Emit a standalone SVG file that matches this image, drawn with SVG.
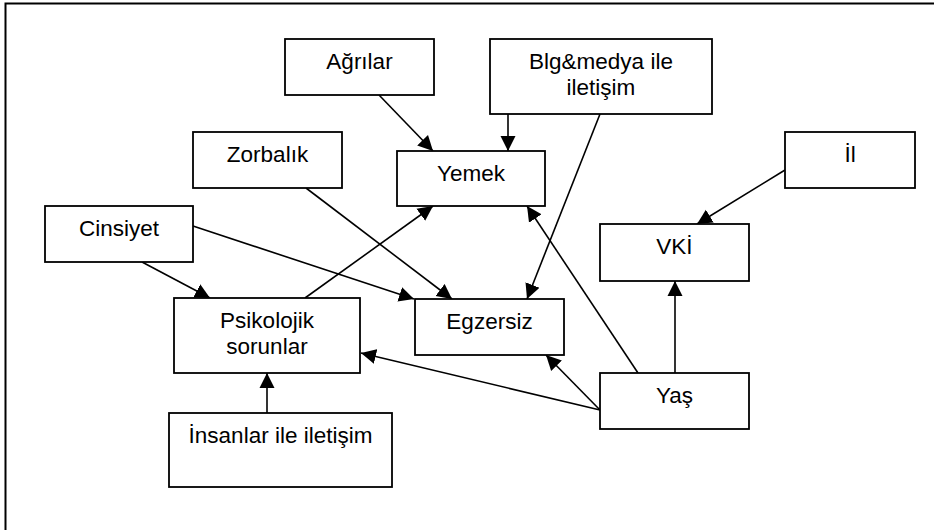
<svg xmlns="http://www.w3.org/2000/svg" width="934" height="530" viewBox="0 0 934 530">
  <style>
    .box { fill: #ffffff; stroke: #000000; stroke-width: 1.8; }
    .lbl { font-family: "Liberation Sans", Arial, sans-serif; font-size: 22.5px; fill: #000000; text-anchor: middle; }
    .edge { stroke: #000000; stroke-width: 1.6; fill: none; marker-end: url(#arrow); }
  </style>
  <defs>
    <marker id="arrow" markerUnits="userSpaceOnUse" markerWidth="16" markerHeight="16" viewBox="0 0 16 16" refX="15" refY="8" orient="auto">
      <path d="M0,0.5 L15,8 L0,15.5 Z" fill="#000000"/>
    </marker>
  </defs>
  <rect x="0" y="0" width="934" height="530" fill="#ffffff"/>
  <!-- outer frame -->
  <rect x="5.5" y="3.5" width="960" height="560" fill="none" stroke="#000000" stroke-width="2"/>

  <g id="connectors">
    <line class="edge" x1="379" y1="95" x2="433" y2="151"/>
    <line class="edge" x1="508" y1="114" x2="508" y2="151"/>
    <line class="edge" x1="600" y1="114" x2="527" y2="299"/>
    <line class="edge" x1="785" y1="170" x2="697" y2="224"/>
    <line class="edge" x1="306" y1="188" x2="452" y2="299"/>
    <line class="edge" x1="193" y1="226" x2="414" y2="299"/>
    <line class="edge" x1="142" y1="262" x2="210" y2="298"/>
    <line class="edge" x1="305" y1="298" x2="433" y2="206"/>
    <line class="edge" x1="267" y1="413" x2="267" y2="373"/>
    <line class="edge" x1="600" y1="410" x2="361" y2="353"/>
    <line class="edge" x1="600" y1="410" x2="546" y2="355"/>
    <line class="edge" x1="638" y1="373" x2="527" y2="206"/>
    <line class="edge" x1="675" y1="373" x2="675" y2="281"/>
  </g>

  <g id="agrilar">
    <rect class="box" x="285" y="39" width="149" height="56"/>
    <text class="lbl" x="359.5" y="69">Ağrılar</text>
  </g>
  <g id="blg-medya">
    <rect class="box" x="490" y="39" width="222" height="75"/>
    <text class="lbl" x="601" y="69">Blg&amp;medya ile</text>
    <text class="lbl" x="601" y="95">iletişim</text>
  </g>
  <g id="zorbalik">
    <rect class="box" x="193" y="132" width="149" height="56"/>
    <text class="lbl" x="267.5" y="162">Zorbalık</text>
  </g>
  <g id="yemek">
    <rect class="box" x="397" y="151" width="148" height="55"/>
    <text class="lbl" x="471" y="181">Yemek</text>
  </g>
  <g id="il">
    <rect class="box" x="785" y="132" width="130" height="56"/>
    <text class="lbl" x="850" y="162">İl</text>
  </g>
  <g id="cinsiyet">
    <rect class="box" x="45" y="206" width="148" height="56"/>
    <text class="lbl" x="119" y="236">Cinsiyet</text>
  </g>
  <g id="vki">
    <rect class="box" x="600" y="224" width="149" height="57"/>
    <text class="lbl" x="674.5" y="254">VKİ</text>
  </g>
  <g id="psikolojik">
    <rect class="box" x="174" y="298" width="186" height="75"/>
    <text class="lbl" x="267" y="328">Psikolojik</text>
    <text class="lbl" x="267" y="354">sorunlar</text>
  </g>
  <g id="egzersiz">
    <rect class="box" x="415" y="299" width="149" height="56"/>
    <text class="lbl" x="489.5" y="329">Egzersiz</text>
  </g>
  <g id="yas">
    <rect class="box" x="600" y="373" width="149" height="56"/>
    <text class="lbl" x="674.5" y="403">Yaş</text>
  </g>
  <g id="insanlar">
    <rect class="box" x="169" y="413" width="223" height="74"/>
    <text class="lbl" x="280.5" y="443">İnsanlar ile iletişim</text>
  </g>
</svg>
